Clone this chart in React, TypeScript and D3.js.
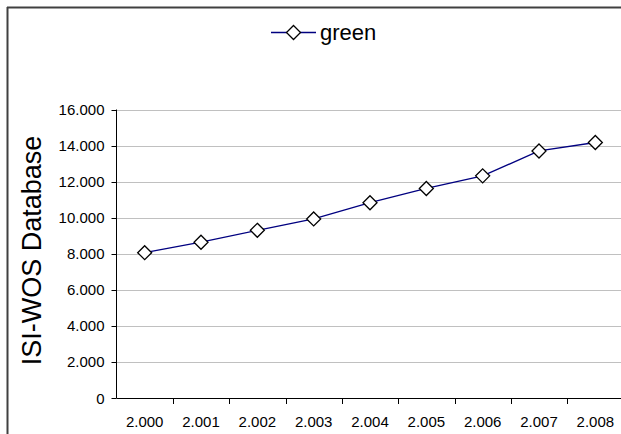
import React from "react";
import * as d3 from "d3";

const categories = ["2.000", "2.001", "2.002", "2.003", "2.004", "2.005", "2.006", "2.007", "2.008"];
const greenValues = [8060, 8640, 9300, 9930, 10830, 11620, 12320, 13700, 14170];
const yTicks = [0, 2000, 4000, 6000, 8000, 10000, 12000, 14000, 16000];
const yTickLabels = ["0", "2.000", "4.000", "6.000", "8.000", "10.000", "12.000", "14.000", "16.000"];
const seriesName = "green";
const yTitle = "ISI-WOS Database";

const W = 621;
const H = 434;
const FONT = "'Liberation Sans', Arial, sans-serif";

export default function App() {
  const x = d3.scaleBand<string>().domain(categories).range([116.5, 623.5]).paddingInner(0).paddingOuter(0);
  const y = d3.scaleLinear().domain([0, 16000]).range([398, 109.5]);
  const line = d3
    .line<number>()
    .x((_, i) => (x(categories[i]) as number) + x.bandwidth() / 2)
    .y((d) => y(d));
  const diamond = (cx: number, cy: number, r: number) =>
    `M${cx},${cy - r}L${cx + r},${cy}L${cx},${cy + r}L${cx - r},${cy}Z`;
  const x0 = x.range()[0];
  const xEnd = x.range()[1];

  return (
    <svg width={W} height={H} style={{ position: "absolute", left: 0, top: 0, background: "#fff" }}>
      <rect x={0} y={0} width={W} height={H} fill="#fff" />
      {/* outer frame */}
      <line x1={7} y1={7.5} x2={W} y2={7.5} stroke="#404040" strokeWidth={2} />
      <line x1={7.5} y1={7} x2={7.5} y2={H} stroke="#404040" strokeWidth={2} />
      {/* legend */}
      <line x1={271} x2={316} y1={32.5} y2={32.5} stroke="#000080" strokeWidth={1.3} />
      <path d={diamond(293.5, 32.5, 7)} fill="#fff" stroke="#000" strokeWidth={1.3} />
      <text x={320} y={39.5} fontFamily={FONT} fontSize={22} fill="#000">
        {seriesName}
      </text>
      {/* gridlines */}
      {yTicks.slice(1).map((t) => (
        <line key={t} x1={x0} x2={xEnd} y1={Math.round(y(t)) + 0.5} y2={Math.round(y(t)) + 0.5} stroke="#c0c0c0" strokeWidth={1} />
      ))}
      {/* y axis */}
      <line x1={x0} x2={x0} y1={y(16000)} y2={y(0)} stroke="#000" strokeWidth={1} />
      {yTicks.map((t, i) => (
        <g key={t}>
          <line x1={x0 - 5} x2={x0} y1={Math.round(y(t)) + 0.5} y2={Math.round(y(t)) + 0.5} stroke="#000" />
          <text x={104.5} y={y(t) + 5.5} textAnchor="end" fontFamily={FONT} fontSize={15} fill="#000">
            {yTickLabels[i]}
          </text>
        </g>
      ))}
      {/* x axis */}
      <line x1={x0} x2={xEnd} y1={398.5} y2={398.5} stroke="#000" strokeWidth={1} />
      {categories.map((c, i) => (
        <g key={c}>
          <line
            x1={Math.round((x(c) as number) + x.bandwidth()) + 0.5}
            x2={Math.round((x(c) as number) + x.bandwidth()) + 0.5}
            y1={398}
            y2={404}
            stroke="#000"
          />
          <text
            x={(x(c) as number) + x.bandwidth() / 2}
            y={426.5}
            textAnchor="middle"
            fontFamily={FONT}
            fontSize={15}
            fill="#000"
          >
            {c}
          </text>
        </g>
      ))}
      {/* y title */}
      <text
        transform={`translate(41,250.5) rotate(-90)`}
        textAnchor="middle"
        fontFamily={FONT}
        fontSize={27}
        fill="#000"
      >
        {yTitle}
      </text>
      {/* series */}
      <path d={line(greenValues) as string} fill="none" stroke="#000080" strokeWidth={1.3} />
      {greenValues.map((v, i) => (
        <path
          key={i}
          d={diamond((x(categories[i]) as number) + x.bandwidth() / 2, y(v), 7)}
          fill="#fff"
          stroke="#000"
          strokeWidth={1.3}
        />
      ))}
    </svg>
  );
}
